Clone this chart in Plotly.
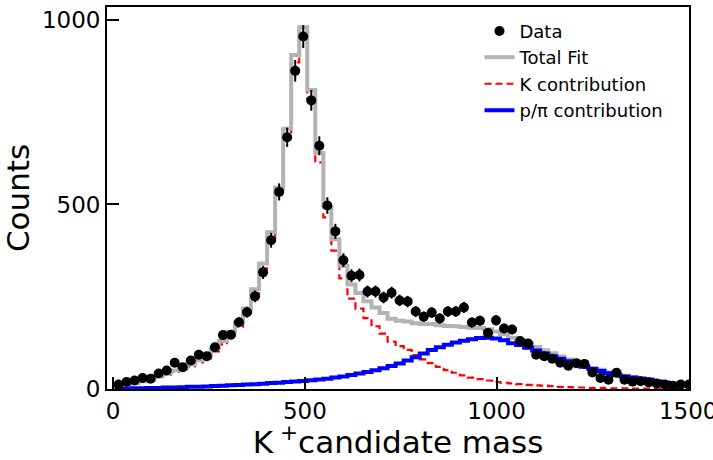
import numpy as np
import plotly.graph_objects as go

# ---- data ----
bin_start = 14.0      # centre of the first bin
bin_width = 20.95
n_bins = 72

data_counts = [12, 19, 23, 30, 28, 42, 50, 71, 59, 77,
               93, 89, 113, 146, 147, 181, 208, 251, 316, 403,
               534, 682, 862, 955, 782, 659, 497, 427, 349, 307,
               309, 264, 264, 248, 261, 240, 237, 210, 196, 207,
               191, 210, 210, 221, 180, 185, 152, 186, 164, 161,
               130, 123, 93, 89, 82, 71, 63, 70, 68, 45,
               30, 25, 44, 25, 20, 21, 18, 15, 12, 9,
               12, 12]

k_contrib = [9, 12, 15, 19, 23, 32, 38, 46, 53, 61,
             72, 83, 102, 121, 145, 169, 206, 257, 326, 409,
             528, 686, 885, 958, 786, 614, 465, 375, 300, 245,
             218, 192, 170, 150, 128, 116, 106, 92, 80, 70,
             60, 51, 44, 37, 31, 27, 23, 19, 17, 15,
             13, 11, 10, 9, 8, 6, 5, 4, 4, 3,
             3, 2, 2, 2, 1, 1, 1, 1, 1, 1,
             1, 1]

bg_contrib = [1, 1, 2, 2, 3, 3, 4, 4, 5, 6,
              6, 7, 8, 9, 10, 11, 12, 13, 14, 16,
              17, 19, 20, 22, 24, 26, 28, 31, 34, 38,
              42, 46, 51, 56, 62, 69, 77, 86, 96, 106,
              113, 120, 126, 131, 135, 138, 139, 137, 132, 124,
              119, 112, 104, 96, 89, 82, 75, 67, 60, 54,
              49, 43, 37, 34, 31, 28, 25, 20, 17, 14,
              12, 10]

x_ticks = [0, 500, 1000, 1500]
y_ticks = [0, 500, 1000]

# ---- derived ----
centers = bin_start + bin_width * np.arange(n_bins)
data_arr = np.array(data_counts, dtype=float)
k_arr = np.array(k_contrib, dtype=float)
bg_arr = np.array(bg_contrib, dtype=float)
total_arr = k_arr + bg_arr
errors = np.sqrt(data_arr)


def step_xy(values):
    xs = np.concatenate([[centers[0] - bin_width / 2], centers, [centers[-1] + bin_width / 2]])
    ys = np.concatenate([[values[0]], values, [values[-1]]])
    return xs, ys


FONT = "DejaVu Sans"
fig = go.Figure()

xs, ys = step_xy(k_arr)
fig.add_trace(go.Scatter(x=xs, y=ys, mode="lines", line_shape="hvh",
                         line=dict(color="red", width=2.2, dash="7px,4px"),
                         name="K contribution", legendgroup="c", legendrank=3))
xs, ys = step_xy(total_arr)
fig.add_trace(go.Scatter(x=xs, y=ys, mode="lines", line_shape="hvh",
                         line=dict(color="#b3b3b3", width=4),
                         name="Total Fit", legendgroup="b", legendrank=2))
xs, ys = step_xy(bg_arr)
fig.add_trace(go.Scatter(x=xs, y=ys, mode="lines", line_shape="hvh",
                         line=dict(color="blue", width=4),
                         name="p/\u03c0 contribution", legendgroup="d", legendrank=4))
fig.add_trace(go.Scatter(x=centers, y=data_arr, mode="markers",
                         marker=dict(color="black", size=10),
                         error_y=dict(type="data", array=errors, color="black",
                                      thickness=2, width=0),
                         name="Data", legendgroup="a", legendrank=1))

fig.update_layout(
    width=713, height=460,
    margin=dict(l=107, r=24, t=7, b=70.5, autoexpand=False),
    paper_bgcolor="white", plot_bgcolor="white",
    font=dict(family=FONT, color="black"),
    showlegend=True,
    legend=dict(x=0.64, y=0.985, xanchor="left", yanchor="top",
                bgcolor="rgba(0,0,0,0)", borderwidth=0,
                font=dict(family=FONT, size=18, color="black"),
                traceorder="grouped", tracegroupgap=0),
)
fig.update_xaxes(range=[-16, 1502], tickvals=x_ticks, ticktext=[str(v) for v in x_ticks],
                 ticks="inside", ticklen=12, tickwidth=1.5, tickcolor="black",
                 ticklabeloverflow="allow",
                 showline=True, linecolor="black", linewidth=1.8, mirror=True,
                 showgrid=False, zeroline=False,
                 tickfont=dict(family=FONT, size=23),
                 title=dict(text="K<sup> +</sup>candidate mass", font=dict(family=FONT, size=31),
                            standoff=4))
fig.update_yaxes(range=[0, 1035], tickvals=y_ticks, ticktext=[str(v) for v in y_ticks],
                 ticks="inside", ticklen=12, tickwidth=1.5, tickcolor="black",
                 ticklabeloverflow="allow",
                 showline=True, linecolor="black", linewidth=1.8, mirror=True,
                 showgrid=False, zeroline=False,
                 tickfont=dict(family=FONT, size=23),
                 title=dict(text="Counts", font=dict(family=FONT, size=31), standoff=5))

fig.write_html("out.html", config={"displayModeBar": False},
               post_script="document.body.style.margin='0';")
